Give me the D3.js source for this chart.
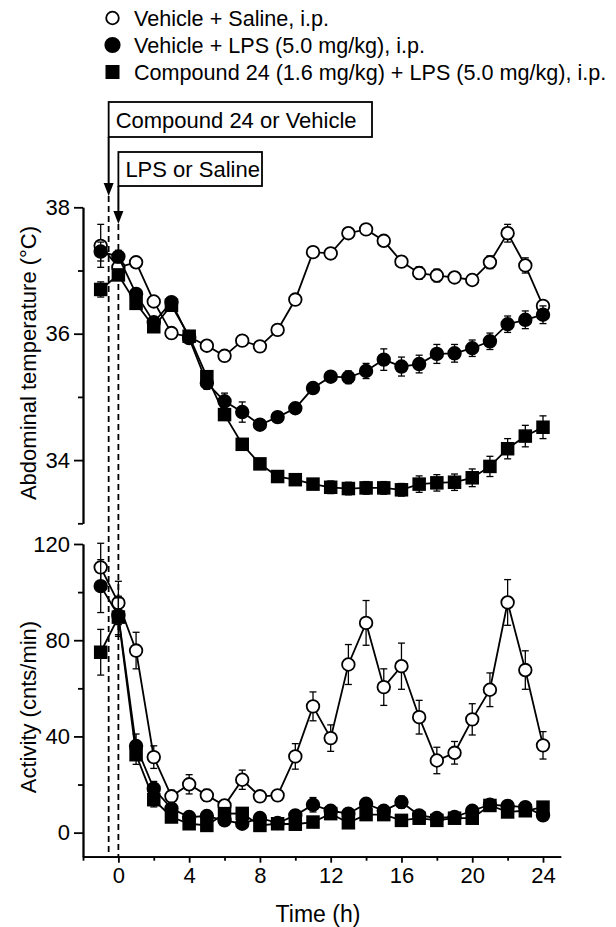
<!DOCTYPE html>
<html>
<head>
<meta charset="utf-8">
<script src="https://cdn.jsdelivr.net/npm/d3@7"></script>
<style>
  body { margin: 0; background: #fff; }
  svg text { font-family: "Liberation Sans", Arial, sans-serif; fill: #000; }
</style>
</head>
<body>
<div id="chart"></div>
<script>
// time points (h)
var hours = [-1, 0, 1, 2, 3, 4, 5, 6, 7, 8, 9, 10, 11, 12, 13, 14, 15, 16, 17, 18, 19, 20, 21, 22, 23, 24];

// abdominal temperature (°C), mean and SEM
var tempSaline = [37.39, 37.05, 37.13, 36.51, 36.01, 35.95, 35.81, 35.65, 35.89, 35.80, 36.06, 36.54, 37.29, 37.27, 37.59, 37.65, 37.47, 37.14, 36.96, 36.92, 36.89, 36.85, 37.13, 37.59, 37.08, 36.44];
var tempSalineErr = [0.34, 0.08, 0.06, 0.06, 0.05, 0.05, 0.05, 0.05, 0.05, 0.05, 0.05, 0.06, 0.07, 0.06, 0.07, 0.06, 0.06, 0.08, 0.1, 0.1, 0.07, 0.06, 0.1, 0.14, 0.12, 0.07];
var tempLPS = [37.30, 37.22, 36.63, 36.18, 36.50, 35.93, 35.22, 34.93, 34.76, 34.56, 34.68, 34.82, 35.14, 35.32, 35.31, 35.41, 35.59, 35.48, 35.52, 35.68, 35.69, 35.77, 35.88, 36.15, 36.22, 36.30];
var tempLPSErr = [0.15, 0.1, 0.08, 0.08, 0.08, 0.08, 0.1, 0.13, 0.16, 0.08, 0.08, 0.08, 0.08, 0.08, 0.1, 0.12, 0.17, 0.15, 0.14, 0.15, 0.14, 0.13, 0.13, 0.13, 0.14, 0.14];
var tempCmpd = [36.70, 36.93, 36.48, 36.11, 36.45, 35.96, 35.32, 34.72, 34.25, 33.94, 33.74, 33.69, 33.62, 33.57, 33.55, 33.56, 33.56, 33.53, 33.62, 33.64, 33.65, 33.72, 33.90, 34.18, 34.38, 34.52];
var tempCmpdErr = [0.12, 0.08, 0.08, 0.08, 0.08, 0.08, 0.08, 0.08, 0.08, 0.08, 0.08, 0.08, 0.08, 0.1, 0.1, 0.1, 0.1, 0.1, 0.13, 0.13, 0.13, 0.14, 0.16, 0.16, 0.17, 0.18];

// activity (cnts/min), mean and SEM
var actSaline = [110.3, 95.5, 75.7, 31.4, 15.1, 20.1, 15.5, 11.3, 22.0, 15.1, 15.5, 31.7, 52.5, 39.3, 69.9, 87.2, 60.5, 69.2, 48.0, 30.0, 33.2, 47.1, 59.4, 95.7, 67.6, 36.3];
var actSalineErr = [10, 9, 7.6, 4.7, 2.5, 4, 2.5, 2, 4, 2, 2, 5.3, 6, 5.5, 8.3, 9.3, 7.6, 9.6, 7, 5.5, 4.7, 6.5, 7, 9.5, 8, 5.7];
var actLPS = [102.5, 90.3, 36.0, 18.3, 10.0, 6.5, 6.9, 5.1, 3.7, 6.1, 4.0, 7.2, 11.6, 9.1, 7.9, 12.0, 9.1, 12.7, 7.2, 6.1, 6.5, 9.1, 11.6, 11.1, 10.6, 7.2];
var actLPSErr = [11, 8, 5, 3, 2, 1.5, 1.5, 1.5, 1.5, 1.5, 1.5, 1.5, 3, 2, 1.5, 2, 2, 2.5, 1.5, 1.5, 1.5, 1.5, 1.5, 1.5, 1.5, 1.5];
var actCmpd = [75.0, 89.6, 32.4, 13.7, 6.5, 3.7, 3.0, 7.9, 8.0, 3.0, 3.7, 3.5, 4.4, 7.9, 4.1, 7.5, 7.5, 5.1, 6.0, 5.1, 6.0, 6.0, 11.3, 8.6, 9.1, 10.6];
var actCmpdErr = [9.5, 8, 4, 3, 2, 1.5, 1.5, 1.5, 1.5, 1.5, 1.5, 1.5, 1.5, 1.5, 1.5, 1.5, 1.5, 1.5, 1.5, 1.5, 1.5, 1.5, 1.5, 1.5, 1.5, 1.5];

var legendLabels = ["Vehicle + Saline, i.p.", "Vehicle + LPS (5.0 mg/kg), i.p.", "Compound 24 (1.6 mg/kg) + LPS (5.0 mg/kg), i.p."];
var doseLabels = ["Compound 24 or Vehicle", "LPS or Saline"];
var doseTimes = [-0.55, 0];

var xTicks = [0, 4, 8, 12, 16, 20, 24];
var xMinor = [-2, 2, 6, 10, 14, 18, 22];
var tempTicks = [34, 36, 38];
var tempMinor = [33, 35, 37];
var actTicks = [0, 40, 80, 120];
var actMinor = [20, 60, 100];

var W = 616, H = 927;
var svg = d3.select("#chart").append("svg")
    .attr("width", W)
    .attr("height", H);

// scales
var x = d3.scaleLinear().domain([-2, 25]).range([83, 560.7]);
var yT = d3.scaleLinear().domain([33, 38]).range([523.3, 207.3]);
var yA = d3.scaleLinear().domain([-10, 120]).range([856.7, 544]);

// axes
function styleAxis(g) {
  g.selectAll("path.domain").attr("stroke", "#000").attr("stroke-width", 1.8);
  g.selectAll(".tick line").attr("stroke", "#000").attr("stroke-width", 1.8);
  g.selectAll(".tick text").style("font-size", "22px");
}

svg.append("g")
    .attr("transform", "translate(83,0)")
    .call(d3.axisLeft(yT).tickValues(tempTicks).tickFormat(d3.format("d")).tickSize(9).tickPadding(4).tickSizeOuter(0))
    .call(styleAxis);
svg.append("g")
    .attr("transform", "translate(83,0)")
    .call(d3.axisLeft(yT).tickValues(tempMinor).tickSize(5).tickFormat("").tickSizeOuter(0))
    .call(styleAxis);

svg.append("g")
    .attr("transform", "translate(83,0)")
    .call(d3.axisLeft(yA).tickValues(actTicks).tickFormat(d3.format("d")).tickSize(9).tickPadding(4).tickSizeOuter(0))
    .call(styleAxis);
svg.append("g")
    .attr("transform", "translate(83,0)")
    .call(d3.axisLeft(yA).tickValues(actMinor).tickSize(5).tickFormat("").tickSizeOuter(0))
    .call(styleAxis);

svg.append("g")
    .attr("transform", "translate(0," + yA(-10) + ")")
    .call(d3.axisBottom(x).tickValues(xTicks).tickSize(6).tickPadding(5).tickSizeOuter(0))
    .call(styleAxis);
svg.append("g")
    .attr("transform", "translate(0," + yA(-10) + ")")
    .call(d3.axisBottom(x).tickValues(xMinor).tickSize(4).tickFormat("").tickSizeOuter(0))
    .call(styleAxis);

// axis titles
svg.append("text")
    .attr("transform", "translate(36," + 363 + ") rotate(-90)")
    .attr("text-anchor", "middle")
    .style("font-size", "22px")
    .text("Abdominal temperature (°C)");
svg.append("text")
    .attr("transform", "translate(36," + 707 + ") rotate(-90)")
    .attr("text-anchor", "middle")
    .style("font-size", "22px")
    .text("Activity (cnts/min)");
svg.append("text")
    .attr("x", 318)
    .attr("y", 922)
    .attr("text-anchor", "middle")
    .style("font-size", "23px")
    .text("Time (h)");

// dosing arrows, boxes and dashed lines
var arrowTips = [196, 224];
var boxes = [
  {top: 102, bottom: 137, right: 372},
  {top: 152, bottom: 186, right: 262}
];
doseTimes.forEach(function(t, i) {
  var xp = x(t);
  svg.append("line")
      .attr("x1", xp).attr("x2", xp)
      .attr("y1", arrowTips[i]).attr("y2", yA(-10))
      .attr("stroke", "#000")
      .attr("stroke-width", 1.8)
      .attr("stroke-dasharray", "6,4");
  var b = boxes[i];
  svg.append("rect")
      .attr("x", xp).attr("y", b.top)
      .attr("width", b.right - xp).attr("height", b.bottom - b.top)
      .attr("fill", "#fff")
      .attr("stroke", "#000")
      .attr("stroke-width", 1.8);
  svg.append("text")
      .attr("x", xp + 7)
      .attr("y", (b.top + b.bottom) / 2 + 8)
      .style("font-size", "22px")
      .text(doseLabels[i]);
  svg.append("line")
      .attr("x1", xp).attr("x2", xp)
      .attr("y1", b.bottom).attr("y2", arrowTips[i] - 10)
      .attr("stroke", "#000")
      .attr("stroke-width", 2);
  svg.append("path")
      .attr("d", "M" + (xp - 5) + "," + (arrowTips[i] - 13) + "L" + (xp + 5) + "," + (arrowTips[i] - 13) + "L" + xp + "," + arrowTips[i] + "Z")
      .attr("fill", "#000");
});

// series drawing
function drawSeries(yScale, vals, errs, shape, fill) {
  var g = svg.append("g");
  var pts = hours.map(function(h, i) { return {t: h, v: vals[i], e: errs[i]}; });

  g.append("path")
      .datum(pts)
      .attr("fill", "none")
      .attr("stroke", "#000")
      .attr("stroke-width", 1.8)
      .attr("d", d3.line().x(function(d) { return x(d.t); }).y(function(d) { return yScale(d.v); }));

  var eb = g.selectAll(".err").data(pts).enter().append("g");
  eb.append("line")
      .attr("x1", function(d) { return x(d.t); })
      .attr("x2", function(d) { return x(d.t); })
      .attr("y1", function(d) { return yScale(d.v + d.e); })
      .attr("y2", function(d) { return yScale(d.v - d.e); })
      .attr("stroke", "#000").attr("stroke-width", 1.3);
  [1, -1].forEach(function(s) {
    eb.append("line")
        .attr("x1", function(d) { return x(d.t) - 3.5; })
        .attr("x2", function(d) { return x(d.t) + 3.5; })
        .attr("y1", function(d) { return yScale(d.v + s * d.e); })
        .attr("y2", function(d) { return yScale(d.v + s * d.e); })
        .attr("stroke", "#000").attr("stroke-width", 1.3);
  });

  if (shape === "square") {
    g.selectAll(".m").data(pts).enter().append("rect")
        .attr("x", function(d) { return x(d.t) - 6; })
        .attr("y", function(d) { return yScale(d.v) - 6; })
        .attr("width", 12).attr("height", 12)
        .attr("fill", fill)
        .attr("stroke", "#000").attr("stroke-width", 1.5);
  } else {
    g.selectAll(".m").data(pts).enter().append("circle")
        .attr("cx", function(d) { return x(d.t); })
        .attr("cy", function(d) { return yScale(d.v); })
        .attr("r", 6.3)
        .attr("fill", fill)
        .attr("stroke", "#000").attr("stroke-width", 1.8);
  }
}

drawSeries(yT, tempSaline, tempSalineErr, "circle", "#fff");
drawSeries(yT, tempCmpd, tempCmpdErr, "square", "#000");
drawSeries(yT, tempLPS, tempLPSErr, "circle", "#000");

drawSeries(yA, actSaline, actSalineErr, "circle", "#fff");
drawSeries(yA, actCmpd, actCmpdErr, "square", "#000");
drawSeries(yA, actLPS, actLPSErr, "circle", "#000");

// legend
var legendY = [18, 45, 72];
var legendShapes = ["open", "filled", "square"];
legendLabels.forEach(function(lab, i) {
  var cy = legendY[i];
  if (legendShapes[i] === "square") {
    svg.append("rect")
        .attr("x", 105.5).attr("y", cy - 7)
        .attr("width", 14).attr("height", 14)
        .attr("fill", "#000");
  } else {
    svg.append("circle")
        .attr("cx", 112.5).attr("cy", cy)
        .attr("r", legendShapes[i] === "open" ? 6.3 : 7.2)
        .attr("fill", legendShapes[i] === "open" ? "#fff" : "#000")
        .attr("stroke", "#000")
        .attr("stroke-width", 1.8);
  }
  svg.append("text")
      .attr("x", 134)
      .attr("y", cy + 7.5)
      .style("font-size", "21.6px")
      .text(lab);
});
</script>
</body>
</html>
